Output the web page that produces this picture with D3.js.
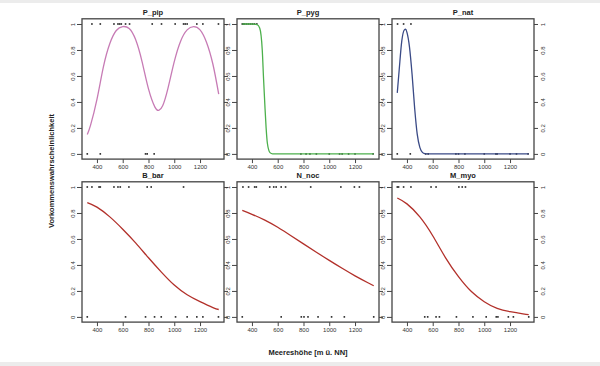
<!DOCTYPE html>
<html><head><meta charset="utf-8">
<script src="https://cdn.jsdelivr.net/npm/d3@7"></script>
<style>
html,body{margin:0;padding:0;background:#fff;}
svg{display:block;font-family:"Liberation Sans",Arial,sans-serif;}
</style></head>
<body>
<svg id="chart" width="600" height="366"></svg>
<script>
// ---- data ----
const species = ["P_pip","P_pyg","P_nat","B_bar","N_noc","M_myo"];
const curveColors = ["#c77bb5","#4cb04c","#3a4a86","#b2302a","#b2302a","#b2302a"];
const xTicks = [400,600,800,1000,1200];
const yTicks = [0,0.2,0.4,0.6,0.8,1];
const yTickLabels = ["0","0.2","0.4","0.6","0.8","1"];

// fitted probability curves (altitude, probability)
const curve_P_pip = [[325,0.15],[350,0.22],[400,0.42],[450,0.67],[500,0.85],[550,0.95],[600,0.98],[650,0.965],[700,0.88],[750,0.71],[800,0.5],[850,0.36],[880,0.335],[910,0.37],[950,0.5],[1000,0.71],[1050,0.87],[1100,0.955],[1150,0.98],[1200,0.955],[1250,0.86],[1300,0.69],[1345,0.46]];
const curve_P_pyg = [[325,1],[400,1],[440,0.995],[460,0.97],[480,0.8],[490,0.58],[500,0.38],[510,0.2],[520,0.08],[540,0.01],[560,0],[700,0],[1000,0],[1345,0]];
const curve_P_nat = [[325,0.47],[340,0.65],[360,0.87],[380,0.955],[390,0.96],[400,0.935],[420,0.82],[440,0.61],[460,0.35],[480,0.15],[500,0.05],[520,0.012],[540,0.002],[560,0],[800,0],[1345,0]];
const curve_B_bar = [[325,0.88],[400,0.845],[500,0.77],[600,0.675],[700,0.57],[800,0.455],[900,0.345],[1000,0.245],[1100,0.17],[1200,0.117],[1300,0.072],[1345,0.057]];
const curve_N_noc = [[325,0.82],[400,0.79],[500,0.745],[600,0.69],[700,0.627],[800,0.562],[900,0.498],[1000,0.435],[1100,0.374],[1200,0.316],[1300,0.263],[1345,0.24]];
const curve_M_myo = [[325,0.915],[400,0.87],[500,0.77],[600,0.625],[700,0.455],[800,0.31],[900,0.195],[1000,0.117],[1100,0.065],[1200,0.04],[1300,0.024],[1345,0.018]];

// observations: presence (1) and absence (0) altitudes
const pres_P_pip = [361,426,532,563,576,589,622,653,829,901,1007,1072,1085,1100,1175,1222,1343];
const abs_P_pip  = [325,426,777,790,844];
const pres_P_pyg = [325,335,345,360,375,390,405,420,438];
const abs_P_pyg  = [780,820,850,900,1000,1080,1100,1150,1200,1340];
const pres_P_nat = [327,374,431];
const abs_P_nat  = [325,426,545,565,780,800,850,1000,1090,1100,1200,1250,1340];
const pres_B_bar = [325,361,416,426,532,563,581,648,790,821,1072];
const abs_B_bar  = [325,622,777,847,899,1010,1100,1175,1222,1343];
const pres_N_noc = [330,374,421,434,538,569,588,627,661,856,1090,1195,1234];
const abs_N_noc  = [325,627,783,804,835,913,1018,1117,1345];
const pres_M_myo = [325,335,374,431,587,626,803,829,854];
const abs_M_myo  = [538,561,626,652,784,912,1015,1093,1106,1187,1226,1345];

const curves = [curve_P_pip,curve_P_pyg,curve_P_nat,curve_B_bar,curve_N_noc,curve_M_myo];
const pres = [pres_P_pip,pres_P_pyg,pres_P_nat,pres_B_bar,pres_N_noc,pres_M_myo];
const abss = [abs_P_pip,abs_P_pyg,abs_P_nat,abs_B_bar,abs_N_noc,abs_M_myo];

// ---- layout ----
const svg = d3.select("#chart");
svg.append("rect").attr("x",0).attr("y",0).attr("width",600).attr("height",3).attr("fill","#ececec");
svg.append("rect").attr("x",0).attr("y",362).attr("width",600).attr("height",4).attr("fill","#ececec");

const lefts = [82,237,392];
const tops = [18.8,181.8];
const pw = 142, ph = 140.3;
const frameCol = "#444";

species.forEach((name,i)=>{
  const col = i%3, row = Math.floor(i/3);
  const L = lefts[col], T = tops[row];
  const x = d3.scaleLinear().domain([284,1386]).range([L,L+pw]);
  const y = d3.scaleLinear().domain([-0.04,1.04]).range([T+ph,T]);
  const g = svg.append("g");

  const xa = g.append("g").attr("transform",`translate(0,${T+ph})`)
    .call(d3.axisBottom(x).tickValues(xTicks).tickSize(4).tickPadding(2).tickFormat(d3.format("d")));
  const ya = g.append("g").attr("transform",`translate(${L},0)`)
    .call(d3.axisLeft(y).tickValues(yTicks).tickSize(5).tickPadding(0).tickFormat((d,k)=>yTickLabels[k]));
  const yr = g.append("g").attr("transform",`translate(${L+pw},0)`)
    .call(d3.axisRight(y).tickValues(yTicks).tickSize(4).tickFormat((d,k)=> col===2 ? yTickLabels[k] : ""));
  [xa,ya,yr].forEach(a=>{
    a.select(".domain").remove();
    a.selectAll(".tick line").attr("stroke",frameCol).attr("stroke-width",1);
    a.selectAll("text").attr("font-size",6).attr("fill","#333");
  });
  ya.selectAll(".tick text").attr("text-anchor","middle").attr("x",0).attr("dy",0)
    .attr("transform","translate(-9,0) rotate(-90)").attr("dominant-baseline","middle");
  yr.selectAll(".tick text").attr("text-anchor","middle").attr("x",0).attr("dy",0)
    .attr("transform","translate(9,0) rotate(-90)").attr("dominant-baseline","middle");

  g.selectAll("rect.p").data(pres[i]).join("rect").attr("class","p")
    .attr("x",d=>x(d)-0.8).attr("y",y(1)-0.8).attr("width",1.6).attr("height",1.6).attr("fill","#222");
  g.selectAll("rect.a").data(abss[i]).join("rect").attr("class","a")
    .attr("x",d=>x(d)-0.8).attr("y",y(0)-0.8).attr("width",1.6).attr("height",1.6).attr("fill","#222");

  const cf = (i===1 || i===2) ? d3.curveMonotoneX : d3.curveNatural;
  g.append("path").datum(curves[i])
    .attr("d", d3.line().x(d=>x(d[0])).y(d=>y(d[1])).curve(cf))
    .attr("fill","none").attr("stroke",curveColors[i]).attr("stroke-width",1.3);

  g.append("rect").attr("x",L).attr("y",T).attr("width",pw).attr("height",ph)
    .attr("fill","none").attr("stroke",frameCol).attr("stroke-width",1.3);

  g.append("text").attr("x",L+pw/2).attr("y",T-4).attr("text-anchor","middle")
    .attr("font-size",7.5).attr("font-weight","bold").attr("fill","#222").text(name);
});

svg.append("text").attr("x",308).attr("y",355).attr("text-anchor","middle")
  .attr("font-size",7.5).attr("font-weight","bold").attr("fill","#222").text("Meereshöhe [m ü. NN]");
svg.append("text").attr("transform","translate(54,171) rotate(-90)").attr("text-anchor","middle")
  .attr("font-size",7.5).attr("font-weight","bold").attr("fill","#222").text("Vorkommenswahrscheinlichkeit");
</script>
</body></html>
